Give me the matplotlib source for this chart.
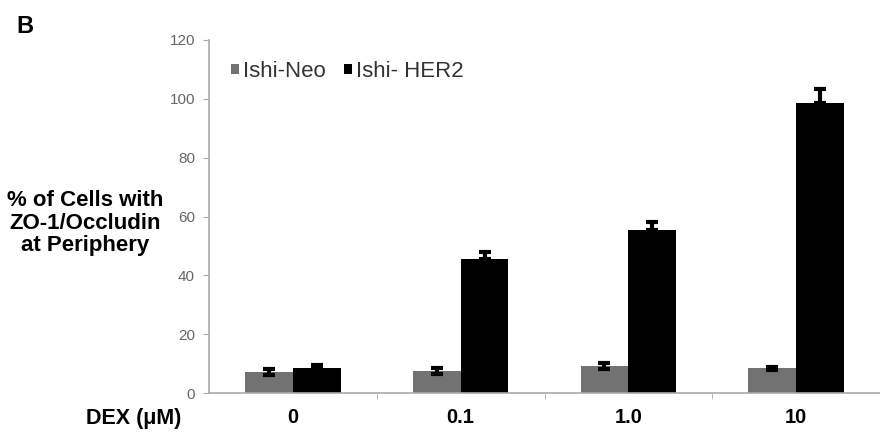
import numpy as np
import matplotlib
matplotlib.use("Agg")
import matplotlib.pyplot as plt

plt.rcParams["font.family"] = ["Liberation Sans", "DejaVu Sans"]

doses = ["0", "0.1", "1.0", "10"]
neo = [7.2, 7.6, 9.2, 8.4]
neo_err = [1.0, 1.0, 1.1, 0.6]
her2 = [8.5, 45.6, 55.4, 98.5]
her2_err = [1.0, 2.3, 2.9, 4.8]

fig = plt.figure(figsize=(8.8, 4.38), dpi=100)
ax = fig.add_axes([0.2375, 0.1027, 0.7625, 0.806])

x = np.arange(len(doses))
w = 0.285
ekw = dict(ecolor="black", elinewidth=3, capsize=4, capthick=3)
ax.bar(x - w / 2, neo, w, color="#727272", yerr=neo_err, error_kw=ekw, label="Ishi-Neo")
ax.bar(x + w / 2, her2, w, color="black", yerr=[[0] * 4, her2_err], error_kw=ekw,
       label="Ishi- HER2")

ax.set_xlim(-0.5, len(doses) - 0.5)
ax.set_ylim(0, 120)
ax.set_yticks(range(0, 121, 20))
ax.set_xticks(x)
ax.set_xticklabels(doses, fontsize=14.5, fontweight="bold")
ax.set_xticks(np.arange(0.5, len(doses) - 0.5, 1), minor=True)
ax.tick_params(axis="x", which="major", length=0, pad=11)
ax.tick_params(axis="x", which="minor", length=4, color="#aaaaaa")
ax.tick_params(axis="y", length=4, color="#aaaaaa", labelcolor="#666666", labelsize=11, pad=6)

for s in ["top", "right"]:
    ax.spines[s].set_visible(False)
for s in ["left", "bottom"]:
    ax.spines[s].set_color("#aaaaaa")
    ax.spines[s].set_linewidth(1.2)

leg = ax.legend(loc="upper left", bbox_to_anchor=(0.01, 0.985), ncol=2, frameon=False,
                fontsize=16, handlelength=0.35, handleheight=0.35, handletextpad=0.2,
                columnspacing=0.8, borderpad=0.2)
for t in leg.get_texts():
    t.set_color("#333333")

fig.text(0.097, 0.49, "% of Cells with\nZO-1/Occludin\nat Periphery", ha="center", va="center",
         fontsize=16, fontweight="bold", linespacing=1.1)
fig.text(0.152, 0.045, "DEX (\u03bcM)", ha="center", va="center", fontsize=15.5, fontweight="bold")
fig.text(0.028, 0.94, "B", ha="center", va="center", fontsize=17, fontweight="bold")

fig.savefig("out.png", dpi=100)
